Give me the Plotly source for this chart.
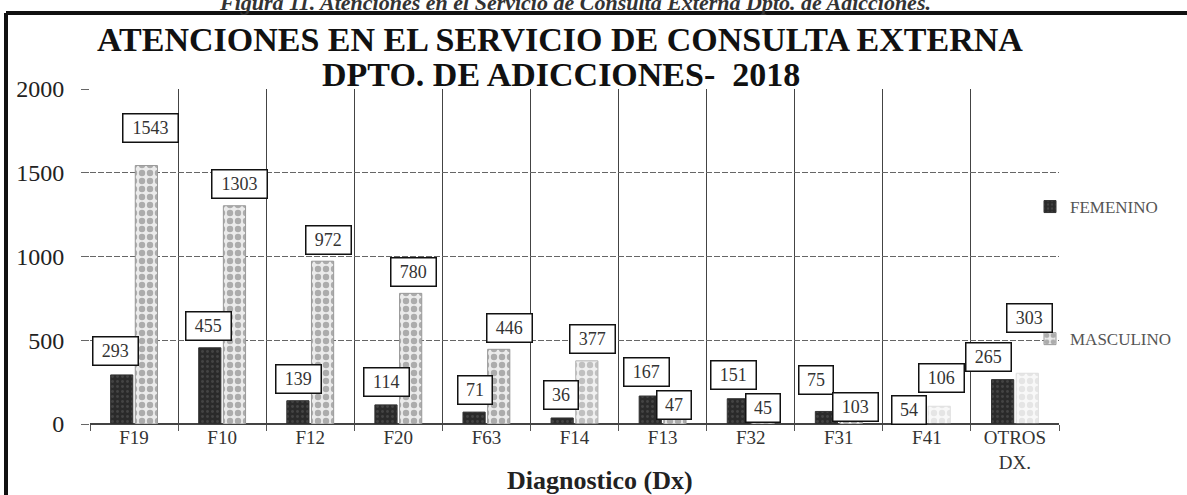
import plotly.graph_objects as go

# data
categorias = ["F19", "F10", "F12", "F20", "F63", "F14", "F13", "F32", "F31", "F41", "OTROS<br>DX."]
femenino = [293, 455, 139, 114, 71, 36, 167, 151, 75, 54, 265]
masculino = [1543, 1303, 972, 780, 446, 377, 47, 45, 103, 106, 303]
y_ticks = [0, 500, 1000, 1500, 2000]

# label box offsets (px) as they were moved by hand in the original
fem_dx = [-19, -14, -12, -12, -11, -14, -16, -17, -23, -18, -26]
fem_dy = [24, 22, 22, 23, 22, 23, 24, 24, 31, 5, 23]
mas_dx = [16, 17, 18, 15, 23, 18, 11, 12, 17, 15, 15]
mas_dy = [38, 22, 21, 21, 21, 22, 11, 8, 0, 28, 55]
mas_opacity = [1, 1, 1, 1, 1, 0.75, 1, 1, 1, 0.3, 0.3]

W, H = 1187, 495
L, R, T, B = 90, 1059, 89, 424
SERIF = "Liberation Serif, Times New Roman, serif"


def px(x, y):
    # pixel position -> paper coords
    return (x - L) / (R - L), (B - y) / (B - T)


fig = go.Figure()
fig.add_trace(go.Bar(
    x=categorias, y=femenino, name="FEMENINO", legendgroup="f",
    marker=dict(color="#2a2a2a", line=dict(color="#333", width=1),
                pattern=dict(shape=".", fgcolor="#5e5e5e", size=5, solidity=0.25)),
))
fig.add_trace(go.Bar(
    x=categorias, y=masculino, name="MASCULINO", legendgroup="m",
    marker=dict(color="#ebebeb", opacity=mas_opacity, line=dict(color="#999", width=1),
                pattern=dict(shape=".", fgcolor="#6e6e6e", size=8, solidity=0.5)),
))

anns = []
for serie, dxs, dys in [(femenino, fem_dx, fem_dy), (masculino, mas_dx, mas_dy)]:
    for c, v, dx, dy in zip(categorias, serie, dxs, dys):
        anns.append(dict(
            x=c, y=v, xref="x", yref="y", text=str(v), showarrow=False,
            xshift=dx, yshift=dy, xanchor="center", yanchor="middle",
            width=10.5 * len(str(v)) + 6, height=21,
            bgcolor="white", bordercolor="#111", borderwidth=1.5, borderpad=3,
            font=dict(family=SERIF, size=18, color="#333"),
        ))

# caption of the page, half cut by the scan in the original
x0, y0 = px(575, 2)
anns.append(dict(x=x0, y=y0, xref="paper", yref="paper", showarrow=False,
                 text="<i><b>Figura 11. Atenciones en el Servicio de Consulta Externa Dpto. de Adicciones.</b></i>",
                 font=dict(family=SERIF, size=22, color="#333"), xanchor="center", yanchor="middle"))
x0, y0 = px(560, 40)
anns.append(dict(x=x0, y=y0, xref="paper", yref="paper", showarrow=False,
                 text="<b>ATENCIONES EN EL SERVICIO DE CONSULTA EXTERNA</b>",
                 font=dict(family=SERIF, size=34, color="#111"), xanchor="center", yanchor="middle"))
x0, y0 = px(561, 74)
anns.append(dict(x=x0, y=y0, xref="paper", yref="paper", showarrow=False,
                 text="<b>DPTO. DE ADICCIONES-&nbsp; 2018</b>",
                 font=dict(family=SERIF, size=34, color="#111"), xanchor="center", yanchor="middle"))
x0, y0 = px(600, 480)
anns.append(dict(x=x0, y=y0, xref="paper", yref="paper", showarrow=False,
                 text="<b>Diagnostico (Dx)</b>",
                 font=dict(family=SERIF, size=26, color="#222"), xanchor="center", yanchor="middle"))

# scanned page frame
fx0, fy0 = px(6, 13)
fx1, fy1 = px(W, H)
shapes = [
    dict(type="line", xref="paper", yref="paper", x0=fx0, x1=fx1, y0=fy0, y1=fy0,
         line=dict(color="#111", width=4)),
    dict(type="line", xref="paper", yref="paper", x0=fx0, x1=fx0, y0=fy0, y1=fy1,
         line=dict(color="#111", width=4)),
]

lx, ly = px(1030, 189)
fig.update_layout(
    width=W, height=H,
    margin=dict(l=L, r=W - R, t=T, b=H - B, autoexpand=False),
    paper_bgcolor="white", plot_bgcolor="white",
    barmode="group", bargap=0.44, bargroupgap=0.1,
    annotations=anns, shapes=shapes,
    legend=dict(x=lx, y=ly, xanchor="left", yanchor="top", tracegroupgap=107,
                font=dict(family=SERIF, size=17, color="#555"), bgcolor="rgba(0,0,0,0)"),
    xaxis=dict(tickson="boundaries", showgrid=True, gridcolor="#444", gridwidth=1,
               ticks="outside", ticklen=6, tickcolor="#555",
               tickfont=dict(family=SERIF, size=19, color="#333"),
               showline=False, automargin=False),
    yaxis=dict(range=[0, 2000], tickvals=y_ticks, showgrid=True, gridcolor="#666",
               griddash="6px,2px", zeroline=True, zerolinecolor="#444", zerolinewidth=1.5,
               ticks="outside", ticklen=8, tickcolor="#666", ticklabelstandoff=12,
               tickfont=dict(family=SERIF, size=24, color="#222"), automargin=False),
)

# page body has a default 8px margin; drop it so the figure fills the window
fig.write_html("out.html", config={"displayModeBar": False},
               post_script="document.body.style.margin='0';")
